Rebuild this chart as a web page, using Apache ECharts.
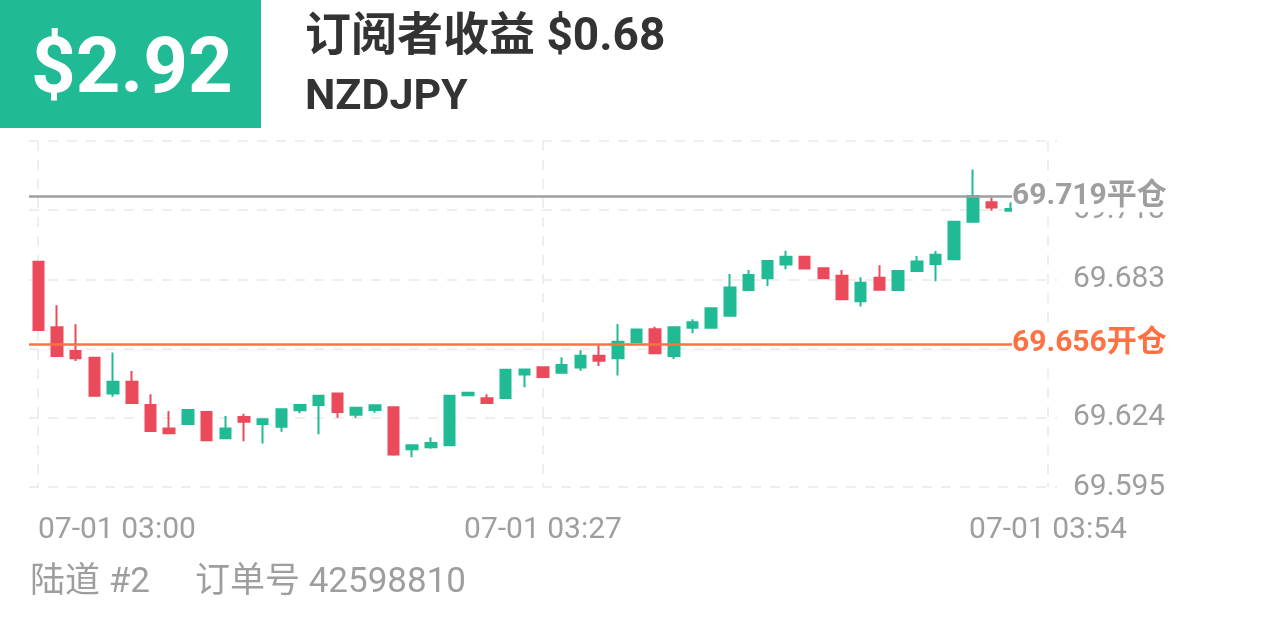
<!DOCTYPE html>
<html>
<head>
<meta charset="utf-8">
<script src="https://cdn.jsdelivr.net/npm/echarts@6/dist/echarts.min.js"></script>
<style>
html,body{margin:0;padding:0;background:#fff;}
#chart{width:1266px;height:633px;}
</style>
</head>
<body>
<div id="chart"></div>
<script>
// ---- data ----
var times = ['03:00','03:01','03:02','03:03','03:04','03:05','03:06','03:07','03:08','03:09',
  '03:10','03:11','03:12','03:13','03:14','03:15','03:16','03:17','03:18','03:19',
  '03:20','03:21','03:22','03:23','03:24','03:25','03:26','03:27','03:28','03:29',
  '03:30','03:31','03:32','03:33','03:34','03:35','03:36','03:37','03:38','03:39',
  '03:40','03:41','03:42','03:43','03:44','03:45','03:46','03:47','03:48','03:49',
  '03:50','03:51','03:52','03:53','03:54'];
var opens  = [69.6910,69.6631,69.6530,69.6501,69.6349,69.6399,69.6300,69.6199,69.6219,69.6270,
  69.6158,69.6248,69.6219,69.6207,69.6277,69.6300,69.6349,69.6258,69.6278,69.6290,
  69.6111,69.6119,69.6128,69.6341,69.6328,69.6329,69.6430,69.6460,69.6437,69.6459,
  69.6510,69.6499,69.6567,69.6622,69.6508,69.6629,69.6629,69.6680,69.6790,69.6840,
  69.6899,69.6932,69.6882,69.6851,69.6742,69.6842,69.6790,69.6871,69.6901,69.6921,
  69.7081,69.7164,69.7128,69.7128];
var closes = [69.6619,69.6508,69.6499,69.6339,69.6399,69.6308,69.6189,69.6179,69.6278,69.6149,
  69.6199,69.6228,69.6239,69.6281,69.6300,69.6339,69.6270,69.6288,69.6298,69.6089,
  69.6128,69.6138,69.6339,69.6352,69.6308,69.6450,69.6451,69.6419,69.6470,69.6510,
  69.6488,69.6569,69.6621,69.6520,69.6631,69.6652,69.6712,69.6801,69.6854,69.6913,
  69.6932,69.6881,69.6840,69.6750,69.6821,69.6791,69.6871,69.6911,69.6940,69.7081,
  69.7191,69.7141,69.7135,69.7140];
var lows   = [69.6616,69.6508,69.6487,69.6335,69.6335,69.6308,69.6189,69.6179,69.6216,69.6149,
  69.6155,69.6145,69.6135,69.6185,69.6264,69.6175,69.6245,69.6245,69.6267,69.6083,
  69.6077,69.6113,69.6128,69.6341,69.6305,69.6329,69.6375,69.6416,69.6433,69.6446,
  69.6466,69.6425,69.6567,69.6520,69.6496,69.6605,69.6629,69.6680,69.6790,69.6807,
  69.6878,69.6881,69.6840,69.6750,69.6719,69.6791,69.6787,69.6867,69.6827,69.6921,
  69.7081,69.7128,69.7128,69.7125];
var highs  = [69.6910,69.6725,69.6644,69.6503,69.6523,69.6445,69.6345,69.6274,69.6278,69.6273,
  69.6253,69.6262,69.6239,69.6286,69.6304,69.6339,69.6349,69.6292,69.6303,69.6294,
  69.6132,69.6162,69.6339,69.6355,69.6345,69.6450,69.6452,69.6460,69.6503,69.6533,
  69.6554,69.6645,69.6621,69.6633,69.6635,69.6665,69.6712,69.6858,69.6875,69.6914,
  69.6957,69.6935,69.6882,69.6875,69.6844,69.6895,69.6871,69.6935,69.6956,69.7081,
  69.7304,69.7183,69.7164,69.7145];
var yTickLabels = ['69.595','69.624','69.654','69.683','69.713',''];
var xTickLabels = ['07-01 03:00','07-01 03:27','07-01 03:54'];
var yMin = 69.595, yMax = 69.7425;
var openPrice = 69.656, closePrice = 69.719;
var profit = '$2.92', subscriberProfit = '$0.68', symbol = 'NZDJPY';
var account = '陆道 #2', orderNo = '42598810';

// ---- chart ----
var UP = '#20bb94', DOWN = '#ea4a5a', GRID = '#eeeeee', LABEL = '#9e9e9e', ORANGE = '#ff7043';
var FONT = 'Roboto, "Noto Sans CJK SC", sans-serif';
var ohlc = opens.map(function (o, i) { return [o, closes[i], lows[i], highs[i]]; });

var chart = echarts.init(document.getElementById('chart'), null, { renderer: 'canvas' });
chart.setOption({
  animation: false,
  backgroundColor: '#ffffff',
  grid: [
    { left: 29, right: 209, top: 141, bottom: 146 },
    { left: 38, right: 218, top: 141, bottom: 146 }
  ],
  xAxis: [
    { type: 'category', gridIndex: 0, data: times, boundaryGap: true, show: false },
    { type: 'value', gridIndex: 1, min: 0, max: 54, interval: 27,
      axisLine: { show: false }, axisTick: { show: false },
      splitLine: { show: true, lineStyle: { color: GRID, width: 2, type: [10, 9] } },
      axisLabel: { show: true, color: LABEL, fontSize: 30, fontFamily: FONT, margin: 28,
        alignMinLabel: 'left',
        formatter: function (v) { return xTickLabels[Math.round(v / 27)]; } } }
  ],
  yAxis: [
    { type: 'value', gridIndex: 0, min: yMin, max: yMax, show: false, scale: true },
    { type: 'value', gridIndex: 0, min: 0, max: 5, interval: 1, position: 'right',
      axisLine: { show: false }, axisTick: { show: false },
      splitLine: { show: true, lineStyle: { color: GRID, width: 2, type: [10, 9] } },
      axisLabel: { show: true, color: LABEL, fontSize: 30, fontFamily: FONT, margin: 16,
        formatter: function (v) { return yTickLabels[Math.round(v)]; } } },
    { type: 'value', gridIndex: 1, min: 0, max: 1, show: false }
  ],
  series: [{
    type: 'candlestick',
    xAxisIndex: 0, yAxisIndex: 0,
    data: ohlc,
    barWidth: 11,
    itemStyle: { color: UP, color0: DOWN, borderColor: UP, borderColor0: DOWN, borderWidth: 2 },
    markLine: {
      silent: true,
      symbol: 'none',
      precision: 3,
      animation: false,
      data: [
        { yAxis: closePrice,
          lineStyle: { color: LABEL, width: 2.5, type: 'solid' },
          label: { show: true, position: 'end', distance: -45, color: LABEL, fontSize: 30,
            fontWeight: 'bold', fontFamily: FONT, backgroundColor: '#ffffff', padding: [2, 0, 0, 0],
            formatter: function () { return closePrice.toFixed(3) + '平仓'; } } },
        { yAxis: openPrice,
          lineStyle: { color: ORANGE, width: 2.5, type: 'solid' },
          label: { show: true, position: 'end', distance: -45, color: ORANGE, fontSize: 30,
            fontWeight: 'bold', fontFamily: FONT, backgroundColor: '#ffffff', padding: [3, 0, 3, 0],
            formatter: function () { return openPrice.toFixed(3) + '开仓'; } } }
      ]
    }
  }],
  graphic: [
    { type: 'rect', left: 0, top: 0, shape: { width: 261, height: 128 }, style: { fill: UP } },
    { type: 'text', x: 31, y: 72, style: { text: profit, fill: '#ffffff', font: 'bold 78px ' + FONT, verticalAlign: 'middle' } },
    { type: 'text', x: 305, y: 38, style: { text: '订阅者收益 ' + subscriberProfit, fill: '#333333', font: 'bold 46px ' + FONT, verticalAlign: 'middle' } },
    { type: 'text', x: 305, y: 98, style: { text: symbol, fill: '#333333', font: 'bold 43px ' + FONT, verticalAlign: 'middle' } },
    { type: 'text', x: 30, y: 583, style: { text: account, fill: LABEL, font: '35px ' + FONT, verticalAlign: 'middle' } },
    { type: 'text', x: 195, y: 583, style: { text: '订单号 ' + orderNo, fill: LABEL, font: '35px ' + FONT, verticalAlign: 'middle' } }
  ]
});
</script>
</body>
</html>
